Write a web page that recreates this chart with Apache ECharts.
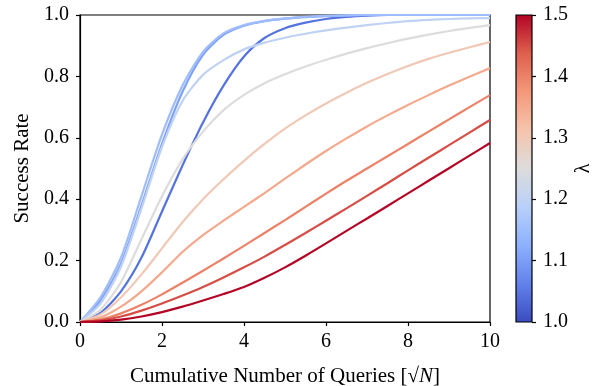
<!DOCTYPE html>
<html>
<head>
<meta charset="UTF-8">
<title></title>
<script src="https://cdn.jsdelivr.net/npm/echarts@6/dist/echarts.min.js"></script>
<style>
  body{margin:0;background:#fff;}
  #main{width:602px;height:386px;}
</style>
</head>
<body>
<div id="main"></div>
<script>
// x positions (sqrt N units) where the curves were read
var xs = [0, 0.5, 1, 1.5, 2, 2.5, 3, 3.5, 4, 4.5, 5, 5.5, 6, 6.5, 7, 7.5, 8, 8.5, 9, 9.5, 10];

var lambdas = [1.05, 1.1, 1.15, 1.2, 1.25, 1.3, 1.35, 1.4, 1.45, 1.5];
var lineColors = ['#5573df', '#7ea2f6', '#9fbdfc', '#c0d2f3', '#dddcdc', '#f0c8b5', '#f4a98c', '#eb8268', '#d64d45', '#b40426'];

var rate105 = [0, 0.03, 0.1, 0.21, 0.36, 0.51, 0.65, 0.77, 0.865, 0.925, 0.957, 0.975, 0.987, 0.994, 0.998, 1, 1, 1, 1, 1, 1];
var rate110 = [0, 0.07, 0.19, 0.38, 0.58, 0.75, 0.87, 0.935, 0.965, 0.98, 0.988, 0.993, 0.996, 0.998, 1, 1, 1, 1, 1, 1, 1];
var rate115 = [0, 0.08, 0.21, 0.41, 0.61, 0.77, 0.88, 0.94, 0.967, 0.981, 0.989, 0.994, 0.997, 0.999, 1, 1, 1, 1, 1, 1, 1];
var rate120 = [0, 0.06, 0.18, 0.37, 0.57, 0.72, 0.805, 0.853, 0.888, 0.91, 0.926, 0.939, 0.95, 0.959, 0.967, 0.974, 0.98, 0.984, 0.987, 0.989, 0.99];
var rate125 = [0, 0.04, 0.13, 0.27, 0.41, 0.53, 0.62, 0.69, 0.74, 0.778, 0.807, 0.832, 0.854, 0.874, 0.892, 0.908, 0.923, 0.936, 0.948, 0.958, 0.967];
var rate130 = [0, 0.025, 0.08, 0.155, 0.24, 0.325, 0.4, 0.465, 0.525, 0.58, 0.63, 0.673, 0.712, 0.747, 0.779, 0.808, 0.834, 0.857, 0.877, 0.895, 0.912];
var rate135 = [0, 0.015, 0.05, 0.1, 0.162, 0.228, 0.283, 0.33, 0.375, 0.42, 0.467, 0.513, 0.557, 0.598, 0.637, 0.673, 0.707, 0.739, 0.77, 0.799, 0.827];
var rate140 = [0, 0.008, 0.028, 0.056, 0.09, 0.128, 0.167, 0.207, 0.248, 0.29, 0.332, 0.375, 0.418, 0.46, 0.5, 0.54, 0.58, 0.62, 0.66, 0.7, 0.739];
var rate145 = [0, 0.005, 0.018, 0.037, 0.06, 0.086, 0.114, 0.145, 0.178, 0.213, 0.251, 0.29, 0.33, 0.37, 0.411, 0.452, 0.494, 0.535, 0.576, 0.617, 0.658];
var rate150 = [0, 0.002, 0.008, 0.018, 0.032, 0.05, 0.07, 0.091, 0.114, 0.144, 0.178, 0.216, 0.256, 0.297, 0.337, 0.378, 0.419, 0.46, 0.501, 0.542, 0.583];

var rates = [rate105, rate110, rate115, rate120, rate125, rate130, rate135, rate140, rate145, rate150];

// coolwarm stops for the colour bar
var cbarColors = ['#3b4cc0', '#6282ea', '#8db0fe', '#b9d0f9', '#dddcdc', '#f5c4ac', '#f4987a', '#de604d', '#b40426'];
var cbarMin = 1.0, cbarMax = 1.5;

var font = 'Liberation Serif';
var myChart = echarts.init(document.getElementById('main'));

var series = [];
rates.forEach(function(r, i){
  series.push({
    type: 'line',
    name: String(lambdas[i]),
    xAxisIndex: 0, yAxisIndex: 0,
    data: xs.map(function(x, j){ return [x, r[j]]; }),
    showSymbol: false,
    smooth: 0.25,
    clip: true,
    lineStyle: {color: lineColors[i], width: 2.2},
    z: 2 + i
  });
});

// colour bar: transparent base + gradient segment from min to max
series.push({
  type: 'bar', xAxisIndex: 1, yAxisIndex: 1, stack: 'cb',
  data: [cbarMin], barWidth: '100%',
  itemStyle: {color: 'rgba(0,0,0,0)'}, silent: true
});
series.push({
  type: 'bar', xAxisIndex: 1, yAxisIndex: 1, stack: 'cb',
  data: [cbarMax - cbarMin], barWidth: '100%', silent: true,
  itemStyle: {
    color: new echarts.graphic.LinearGradient(0, 1, 0, 0, cbarColors.map(function(c, k){
      return {offset: k / (cbarColors.length - 1), color: c};
    }))
  }
});

var option = {
  animation: false,
  backgroundColor: '#fff',
  grid: [
    {left: 80, top: 15, width: 410, height: 307, show: true, borderColor: '#000', borderWidth: 1.2,
      containLabel: false, outerBoundsMode: 'none'},
    {left: 516, top: 15, width: 16, height: 307, show: true, borderColor: '#000', borderWidth: 1.2, z: 5,
      containLabel: false, outerBoundsMode: 'none'}
  ],
  xAxis: [
    {
      type: 'value', gridIndex: 0, min: 0, max: 10, interval: 2,
      name: 'Cumulative Number of Queries [{r|√}{n|N}]',
      nameLocation: 'middle', nameGap: 44,
      nameTextStyle: {
        fontFamily: font, fontSize: 21, color: '#000',
        rich: {
          r: {fontFamily: font, fontSize: 21, color: '#000'},
          n: {fontFamily: font, fontSize: 21, fontStyle: 'italic', color: '#000'}
        }
      },
      axisLine: {show: true, onZero: false, lineStyle: {color: '#000', width: 1.2}},
      axisTick: {show: true, length: 4, lineStyle: {color: '#000', width: 1.2}},
      axisLabel: {fontFamily: font, fontSize: 20, color: '#000', margin: 10},
      splitLine: {show: false}
    },
    {
      type: 'category', gridIndex: 1, data: ['cb'],
      axisLine: {show: false}, axisTick: {show: false}, axisLabel: {show: false}
    }
  ],
  yAxis: [
    {
      type: 'value', gridIndex: 0, min: 0, max: 1, interval: 0.2,
      name: 'Success Rate', nameLocation: 'middle', nameGap: 45,
      nameTextStyle: {fontFamily: font, fontSize: 21, color: '#000'},
      axisLine: {show: true, lineStyle: {color: '#000', width: 1.2}},
      axisTick: {show: true, length: 4, lineStyle: {color: '#000', width: 1.2}},
      axisLabel: {fontFamily: font, fontSize: 20, color: '#000', margin: 11,
        formatter: function(v){ return v.toFixed(1); }},
      splitLine: {show: false}
    },
    {
      type: 'value', gridIndex: 1, position: 'right', min: cbarMin, max: cbarMax, interval: 0.1,
      name: 'λ', nameLocation: 'middle', nameGap: 42, nameRotate: 90,
      nameTextStyle: {fontFamily: font, fontSize: 20, color: '#000'},
      axisLine: {show: false},
      axisTick: {show: true, length: 4, lineStyle: {color: '#000', width: 1.2}},
      axisLabel: {fontFamily: font, fontSize: 20, color: '#000', margin: 11,
        formatter: function(v){ return v.toFixed(1); }},
      splitLine: {show: false}
    }
  ],
  series: series
};
myChart.setOption(option);
</script>
</body>
</html>
